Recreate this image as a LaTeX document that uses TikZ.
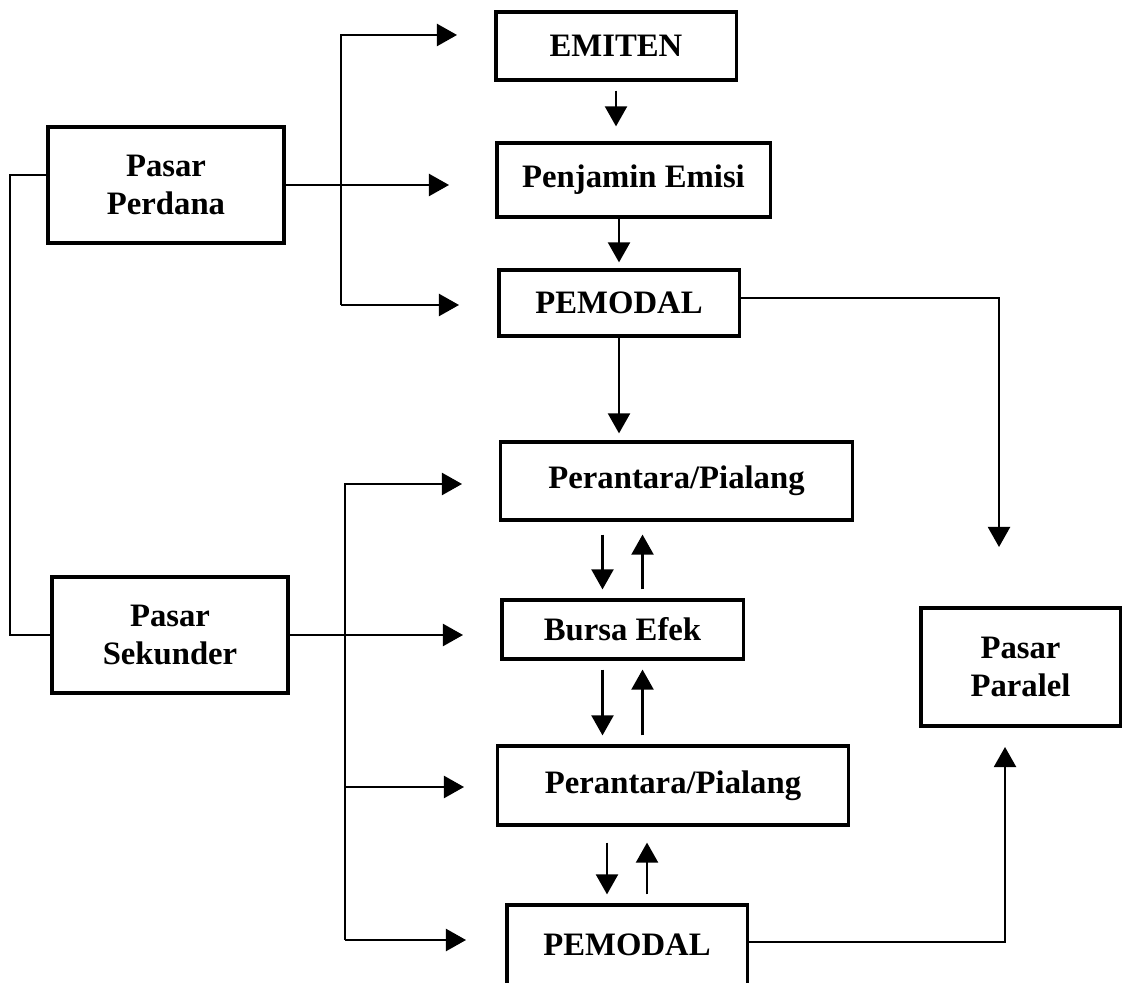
\documentclass[tikz,border=0pt]{standalone}
\usepackage{fontspec}
\setmainfont{Liberation Serif}
\usetikzlibrary{arrows.meta}

\begin{document}
\begin{tikzpicture}[x=0.01cm, y=-0.01cm,
    box/.style={draw, line width=0.9pt, inner sep=0pt, align=center,
        font=\bfseries\fontsize{9.3}{10.8}\selectfont},
    wire/.style={line width=0.6pt},
    arr/.style={line width=0.6pt, -{Triangle[length=2mm,width=2.2mm]}}]
    \useasboundingbox (0,0) rectangle (1125,983);

    % Define the boxes
    \node[box, minimum width=2.40cm, minimum height=0.68cm] (emiten) at (616,46) {EMITEN};
    \node[box, minimum width=2.73cm, minimum height=0.74cm] (penjamin) at (633.5,180) {Penjamin Emisi};
    \node[box, minimum width=2.40cm, minimum height=0.66cm] (pemodalA) at (619,303) {PEMODAL};
    \node[box, minimum width=2.36cm, minimum height=1.16cm] (perdana) at (166,185) {Pasar\\Perdana};
    \node[box, minimum width=3.51cm, minimum height=0.78cm] (pialangA) at (676.5,481) {Perantara/Pialang};
    \node[box, minimum width=2.41cm, minimum height=0.59cm] (bursa) at (622.5,629.5) {Bursa Efek};
    \node[box, minimum width=3.50cm, minimum height=0.79cm] (pialangB) at (673,785.5) {Perantara/Pialang};
    \node[box, minimum width=2.40cm, minimum height=0.80cm] (pemodalB) at (627,945) {PEMODAL};
    \node[box, minimum width=2.36cm, minimum height=1.16cm] (sekunder) at (170,635) {Pasar\\Sekunder};
    \node[box, minimum width=1.99cm, minimum height=1.18cm] (paralel) at (1020.5,667) {Pasar\\Paralel};

    % Define the bus points and arrow ends
    \coordinate (topE) at (341,35);
    \coordinate (topM) at (341,305);
    \coordinate (tipE) at (457,35);
    \coordinate (tipJ) at (449,185);
    \coordinate (tipM) at (459,305);
    \coordinate (botP) at (345,484);
    \coordinate (botQ) at (345,787);
    \coordinate (botM) at (345,940);
    \coordinate (tipP) at (462,484);
    \coordinate (tipB) at (463,635);
    \coordinate (tipQ) at (464,787);
    \coordinate (tipN) at (466,940);
    \coordinate (tipR) at (999,547);
    \coordinate (tipS) at (1005,747);

    % Draw the left bracket
    \draw[wire] ([yshift=1mm]perdana.west) -- ++(-36,0) |- (sekunder.west);

    % Draw the primary market arrows
    \draw[arr] (perdana.east) -- (tipJ);
    \draw[arr] (topM) -- (topE) -- (tipE);
    \draw[arr] (topM) -- (tipM);

    % Draw the secondary market arrows
    \draw[arr] (sekunder.east) -- (tipB);
    \draw[arr] (botM) -- (botP) -- (tipP);
    \draw[arr] (botQ) -- (tipQ);
    \draw[arr] (botM) -- (tipN);

    % Draw the flow down the middle
    \draw[arr, shorten <=0.9mm, shorten >=1.5mm] (emiten.south) -- (emiten.south |- penjamin.north);
    \draw[arr, shorten >=0.6mm] (pemodalA.north |- penjamin.south) -- (pemodalA.north);
    \draw[arr, shorten >=0.7mm] (pemodalA.south) -- (pemodalA.south |- pialangA.north);

    % Draw the two-way arrows
    \foreach \hi/\lo/\rf/\gap in {pialangA/bursa/bursa/1.3mm, bursa/pialangB/bursa/0.9mm, pialangB/pemodalB/pemodalB/1.6mm} {
        \draw[arr, shorten <=\gap, shorten >=0.9mm] ([xshift=-2mm]\rf.north |- \hi.south) -- ([xshift=-2mm]\rf.north |- \lo.north);
        \draw[arr, shorten <=0.9mm, shorten >=\gap] ([xshift=2mm]\rf.north |- \lo.north) -- ([xshift=2mm]\rf.north |- \hi.south);
    }

    % Draw the links to the parallel market
    \draw[arr] ([yshift=0.5mm]pemodalA.east) -| (tipR);
    \draw[arr] ([yshift=0.3mm]pemodalB.east) -| (tipS);

\end{tikzpicture}
\end{document}
